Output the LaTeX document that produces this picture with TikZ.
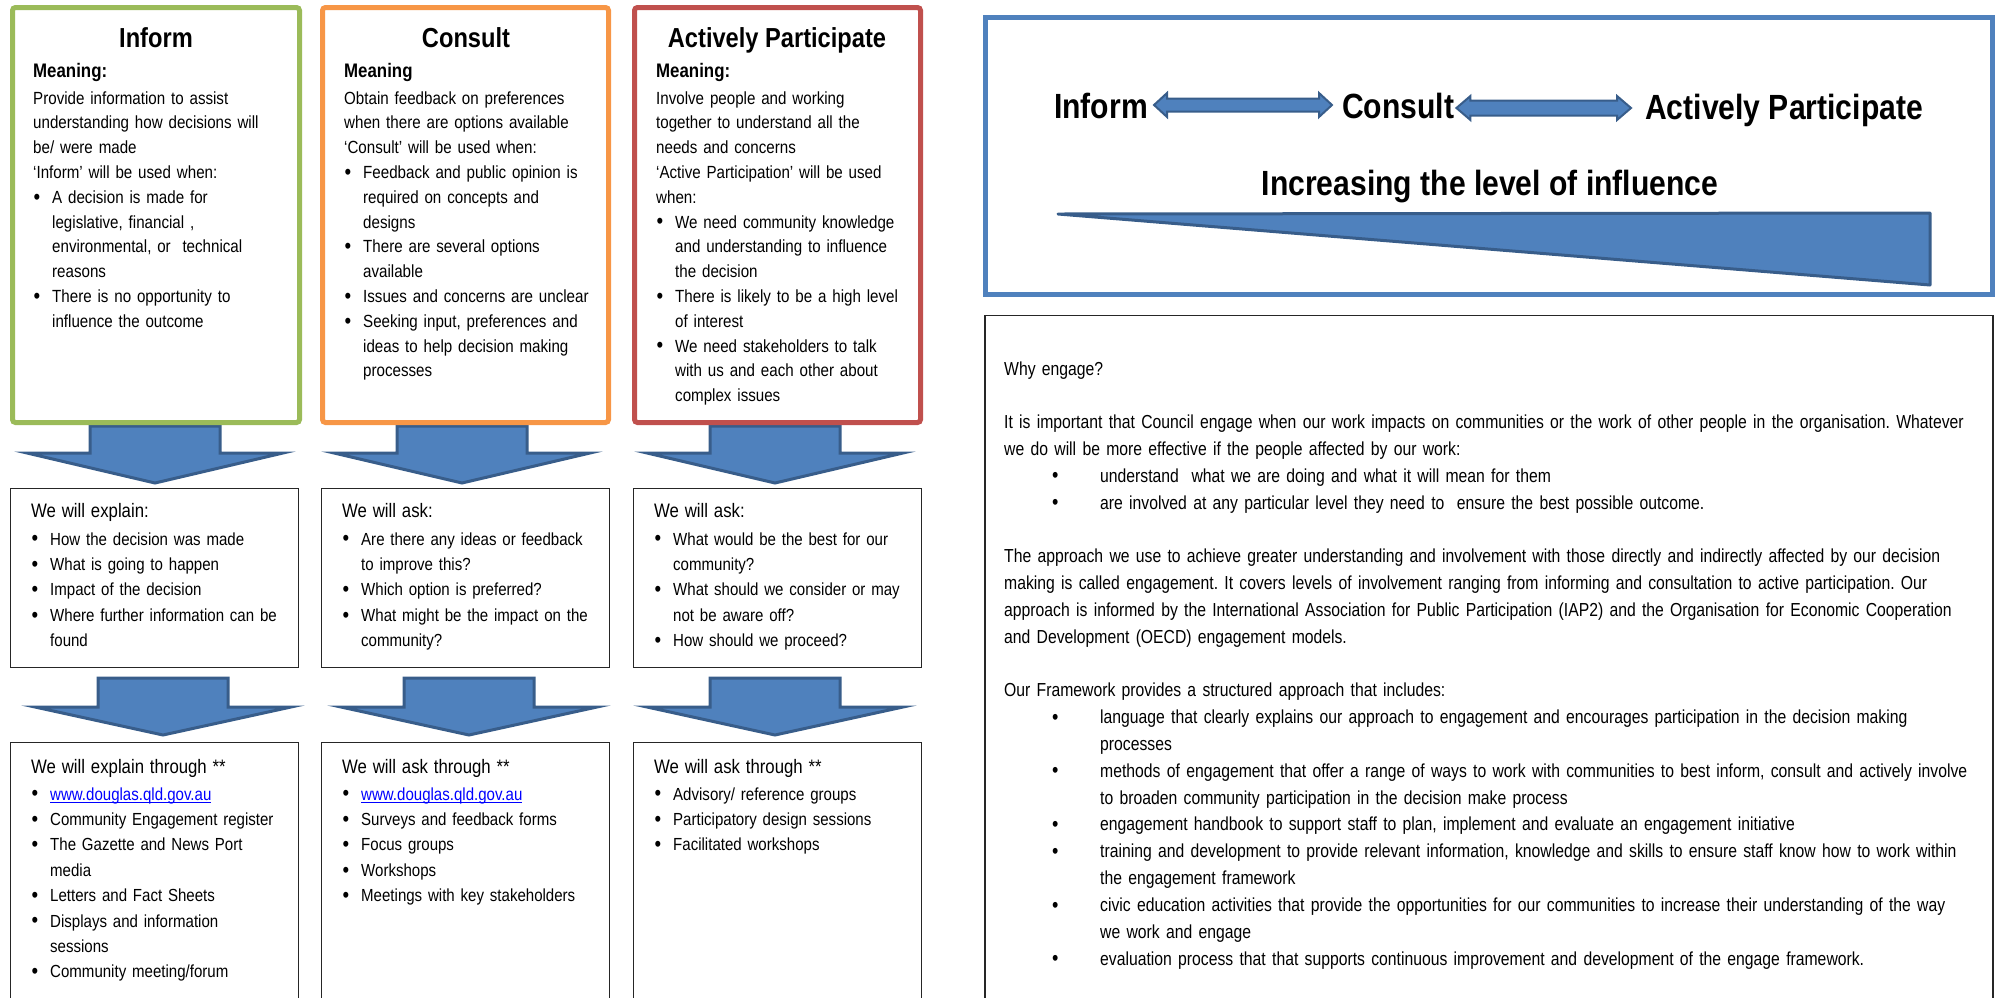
\documentclass[tikz,border=0pt]{standalone}
\usepackage{graphicx}
\usepackage{fontspec}
\setmainfont{Liberation Sans}[FakeStretch=0.86]
\newfontfamily\panelfont{Liberation Sans}[FakeStretch=0.835]
\usetikzlibrary{calc}

\definecolor{lvgreen}{HTML}{9BBB59}
\definecolor{lvorange}{HTML}{F79646}
\definecolor{lvred}{HTML}{C0504D}
\definecolor{lvblue}{HTML}{4F81BD}
\definecolor{lvdark}{HTML}{385D8A}
\definecolor{linkblue}{HTML}{0000FF}

% list helpers: bullet + hanging indent for the column boxes and the text panel
\newcommand\bulL{\makebox[19pt][l]{\hspace{0.5pt}\raisebox{-0.9pt}{\scalebox{1.25}{\textbullet}}}}
\newcommand\indL{\hspace*{19pt}}
\newcommand\bulR{\makebox[96pt][l]{\hspace{48pt}\raisebox{-0.6pt}{\scalebox{1.15}{\textbullet}}}}
\newcommand\weblink[1]{\textcolor{linkblue}{\setbox0\hbox{#1}\rlap{\rule[-2.6pt]{\wd0}{1pt}}\box0}}
% downward block arrow: centre x, shaft top, head top, tip
\newcommand\downblock[4]{%
  \filldraw[blockarrow] (#1-65,#2) -- (#1+65,#2) -- (#1+65,#3) -- (#1+128,#3)
    -- (#1,#4) -- (#1-128,#3) -- (#1-65,#3) -- cycle;}

\begin{document}
\frenchspacing
\begin{tikzpicture}[x=1pt,y=-1pt,
  topbox/.style={line width=5pt, rounded corners=3pt, minimum width=286pt,
    minimum height=415pt, inner sep=0pt, fill=white},
  midbox/.style={draw=black!85, line width=1.5pt, minimum width=288pt,
    inner sep=0pt, fill=white},
  blockarrow/.style={fill=lvblue, draw=lvdark, line width=3pt, line join=miter},
  dblarrow/.style={fill=lvblue, draw=lvdark, line width=2pt, line join=miter},
  coltitle/.style={anchor=base, inner sep=0pt, font=\fontsize{27.5}{30}\selectfont\bfseries},
  body/.style={anchor=base west, inner sep=0pt, text width=300pt, align=left,
    font=\fontsize{17.6}{24.8}\selectfont},
  listbody/.style={anchor=base west, inner sep=0pt, text width=300pt, align=left,
    font=\fontsize{17.5}{25.4}\selectfont},
  bighead/.style={inner sep=0pt, font=\fontsize{35}{40}\selectfont\bfseries},
  panel/.style={anchor=base west, inner sep=0pt, text width=1100pt, align=left,
    font=\panelfont\fontsize{18.85}{26.82}\selectfont}
]
\useasboundingbox (0,0) rectangle (1997,997);

% ---- block arrows between the column boxes ----
\downblock{155}{426}{453}{483}
\downblock{462}{426}{453}{483}
\downblock{775}{426}{453}{483}
\downblock{163}{678}{707}{735}
\downblock{469}{678}{707}{735}
\downblock{775}{678}{707}{735}

% ---- column boxes ----
\node[topbox, draw=lvgreen, minimum width=287pt] (infTop) at (156,215) {};
\node[topbox, draw=lvorange] (conTop) at (465.5,215) {};
\node[topbox, draw=lvred] (actTop) at (777.5,215) {};

\node[midbox, minimum height=179pt] (infMid) at (154.5,578) {};
\node[midbox, minimum height=179pt] (conMid) at (465.5,578) {};
\node[midbox, minimum height=179pt] (actMid) at (777.5,578) {};

\node[midbox, minimum height=267.5pt] (infBot) at (154.5,876.25) {};
\node[midbox, minimum height=267.5pt] (conBot) at (465.5,876.25) {};
\node[midbox, minimum height=267.5pt] (actBot) at (777.5,876.25) {};

% ---- column titles ----
\node[coltitle] (tInf) at (156,47) {Inform};
\node[coltitle] (tCon) at (466,47) {Consult};
\node[coltitle] (tAct) at (777,47) {Actively Participate};

% ---- meanings ----
\node[body] (bInf) at (33,77) {{\fontsize{19.6}{24.8}\selectfont\bfseries Meaning:}\\[2.2pt]
Provide information to assist\\
understanding how decisions will\\
be/ were made\\
‘Inform’ will be used when:\\
\bulL A decision is made for\\
\indL legislative, financial ,\\
\indL environmental, or\ \ technical\\
\indL reasons\\
\bulL There is no opportunity to\\
\indL influence the outcome};

\node[body] (bCon) at (344,77) {{\fontsize{19.6}{24.8}\selectfont\bfseries Meaning}\\[2.2pt]
Obtain feedback on preferences\\
when there are options available\\
‘Consult’ will be used when:\\
\bulL Feedback and public opinion is\\
\indL required on concepts and\\
\indL designs\\
\bulL There are several options\\
\indL available\\
\bulL Issues and concerns are unclear\\
\bulL Seeking input, preferences and\\
\indL ideas to help decision making\\
\indL processes};

\node[body] (bAct) at (656,77) {{\fontsize{19.6}{24.8}\selectfont\bfseries Meaning:}\\[2.2pt]
Involve people and working\\
together to understand all the\\
needs and concerns\\
‘Active Participation’ will be used\\
when:\\
\bulL We need community knowledge\\
\indL and understanding to influence\\
\indL the decision\\
\bulL There is likely to be a high level\\
\indL of interest\\
\bulL We need stakeholders to talk\\
\indL with us and each other about\\
\indL complex issues};

% ---- what we will do ----
\node[listbody] (mInf) at (31,517) {{\fontsize{19.5}{25.4}\selectfont We will explain:}\\[2.6pt]
\bulL How the decision was made\\
\bulL What is going to happen\\
\bulL Impact of the decision\\
\bulL Where further information can be\\
\indL found};

\node[listbody] (mCon) at (342,517) {{\fontsize{19.5}{25.4}\selectfont We will ask:}\\[2.6pt]
\bulL Are there any ideas or feedback\\
\indL to improve this?\\
\bulL Which option is preferred?\\
\bulL What might be the impact on the\\
\indL community?};

\node[listbody] (mAct) at (654,517) {{\fontsize{19.5}{25.4}\selectfont We will ask:}\\[2.6pt]
\bulL What would be the best for our\\
\indL community?\\
\bulL What should we consider or may\\
\indL not be aware off?\\
\bulL How should we proceed?};

% ---- how we will do it ----
\node[listbody] (lInf) at (31,773) {{\fontsize{19.5}{25.4}\selectfont We will explain through **}\\[1.6pt]
\bulL \weblink{www.douglas.qld.gov.au}\\
\bulL Community Engagement register\\
\bulL The Gazette and News Port\\
\indL media\\
\bulL Letters and Fact Sheets\\
\bulL Displays and information\\
\indL sessions\\
\bulL Community meeting/forum};

\node[listbody] (lCon) at (342,773) {{\fontsize{19.5}{25.4}\selectfont We will ask through **}\\[1.6pt]
\bulL \weblink{www.douglas.qld.gov.au}\\
\bulL Surveys and feedback forms\\
\bulL Focus groups\\
\bulL Workshops\\
\bulL Meetings with key stakeholders};

\node[listbody] (lAct) at (654,773) {{\fontsize{19.5}{25.4}\selectfont We will ask through **}\\[1.6pt]
\bulL Advisory/ reference groups\\
\bulL Participatory design sessions\\
\bulL Facilitated workshops};

% ---- spectrum panel ----
\node[draw=lvblue, line width=5pt, minimum width=1007pt, minimum height=277pt,
  inner sep=0pt] (spectrum) at (1489,156) {};
\node[bighead, anchor=base west] (hInf) at (1054,118) {Inform};
\node[bighead, anchor=base west] (hCon) at (1342,118) {Consult};
\node[bighead, anchor=base west] (hAct) at (1645,119) {Actively Participate};
\node[bighead, anchor=base] (hInc) at (1490,195) {Increasing the level of influence};

\path[dblarrow] let \p1=($(hInf.base east)+(6,-13)$), \p2=($(hCon.base west)+(-10,-13)$) in
  (\x1,\y1) -- (\x1+13pt,\y1+12pt) -- (\x1+13pt,\y1+6.5pt) -- (\x2-13pt,\y1+6.5pt)
  -- (\x2-13pt,\y1+12pt) -- (\x2,\y1) -- (\x2-13pt,\y1-12pt) -- (\x2-13pt,\y1-6.5pt)
  -- (\x1+13pt,\y1-6.5pt) -- (\x1+13pt,\y1-12pt) -- cycle;
\path[dblarrow] let \p1=($(hCon.base east)+(2,-10)$), \p2=($(hAct.base west)+(-14,-10)$) in
  (\x1,\y1) -- (\x1+14pt,\y1+12pt) -- (\x1+14pt,\y1+7.5pt) -- (\x2-14pt,\y1+7.5pt)
  -- (\x2-14pt,\y1+12pt) -- (\x2,\y1) -- (\x2-14pt,\y1-12pt) -- (\x2-14pt,\y1-7.5pt)
  -- (\x1+14pt,\y1-7.5pt) -- (\x1+14pt,\y1-12pt) -- cycle;

% influence wedge
\filldraw[fill=lvblue, draw=lvdark, line width=3pt, line join=round]
  (1058,214) -- (1930,213) -- (1930,285) -- cycle;

% ---- text panel ----
\node[draw=black!85, line width=1.5pt, minimum width=1008pt, minimum height=694.5pt,
  inner sep=0pt] (textPanel) at (1489,662.75) {};
\node[panel] (why) at (1004,375) {Why engage?\\[26.82pt]
It is important that Council engage when our work impacts on communities or the work of other people in the organisation. Whatever\\
we do will be more effective if the people affected by our work:\\
\bulR understand\ \ what we are doing and what it will mean for them\\
\bulR are involved at any particular level they need to\ \ ensure the best possible outcome.\\[26.82pt]
The approach we use to achieve greater understanding and involvement with those directly and indirectly affected by our decision\\
making is called engagement. It covers levels of involvement ranging from informing and consultation to active participation. Our\\
approach is informed by the International Association for Public Participation (IAP2) and the Organisation for Economic Cooperation\\
and Development (OECD) engagement models.\\[26.82pt]
Our Framework provides a structured approach that includes:\\
\bulR language that clearly explains our approach to engagement and encourages participation in the decision making\\
\hspace*{96pt}processes\\
\bulR methods of engagement that offer a range of ways to work with communities to best inform, consult and actively involve\\
\hspace*{96pt}to broaden community participation in the decision make process\\
\bulR engagement handbook to support staff to plan, implement and evaluate an engagement initiative\\
\bulR training and development to provide relevant information, knowledge and skills to ensure staff know how to work within\\
\hspace*{96pt}the engagement framework\\
\bulR civic education activities that provide the opportunities for our communities to increase their understanding of the way\\
\hspace*{96pt}we work and engage\\
\bulR evaluation process that that supports continuous improvement and development of the engage framework.};
\end{tikzpicture}
\end{document}
